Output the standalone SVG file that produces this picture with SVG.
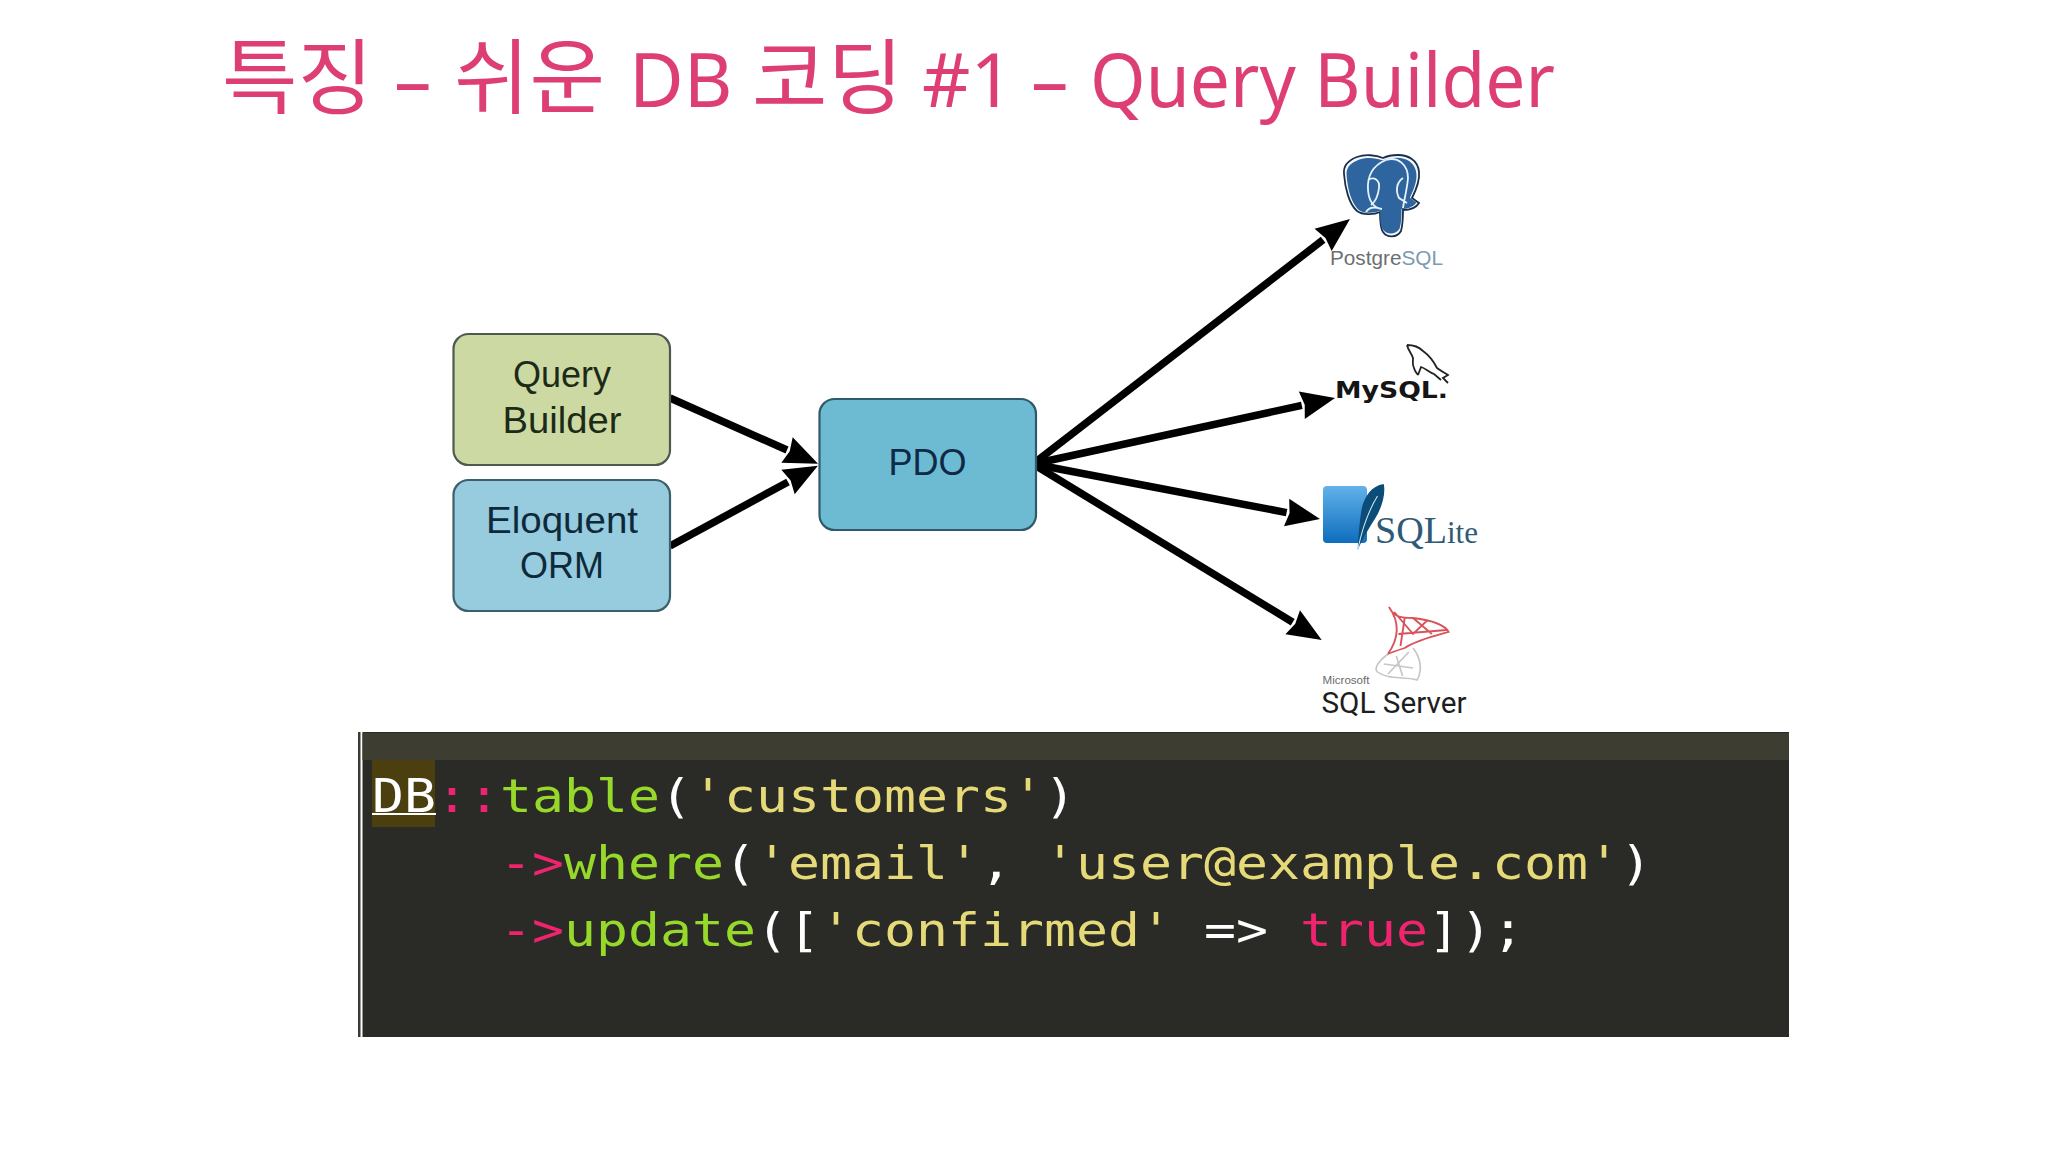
<svg xmlns="http://www.w3.org/2000/svg" width="2048" height="1152" viewBox="0 0 2048 1152">
<style>
.box{stroke-width:2.2}
.lbl{font-family:"Liberation Sans",Arial,sans-serif;font-size:36px;text-anchor:middle}
.conn{fill:none;stroke:#000;stroke-width:7.5;marker-end:url(#head)}
.c{font-family:"DejaVu Sans Mono","Liberation Mono",monospace;font-size:47px}
.w{fill:#fff}.p{fill:#f0246e}.g{fill:#96d92a}.y{fill:#e6da78}
.ko{font-family:"Noto Sans CJK KR",sans-serif;font-size:82px}
.la{font-family:"Noto Sans","Noto Sans CJK KR",sans-serif;font-size:75px}
</style>
<defs>
<marker id="head" markerUnits="userSpaceOnUse" markerWidth="38" markerHeight="32" viewBox="-2 -16 38 32" refX="0" refY="0" orient="auto"><path d="M0,-14 L34,0 L0,14 L3,0 z" fill="#000"/></marker>
<linearGradient id="sq" x1="0" y1="0" x2="0" y2="1"><stop offset="0" stop-color="#62b2ea"/><stop offset="1" stop-color="#0e6dbd"/></linearGradient>
</defs>
<rect width="2048" height="1152" fill="#fff"/>
<text id="title" y="107" fill="#dd3f74"><tspan class="ko" x="222">특징 </tspan><tspan class="la" x="394">– </tspan><tspan class="ko" x="454">쉬운 </tspan><tspan class="la" x="629">DB </tspan><tspan class="ko" x="752">코딩 </tspan><tspan class="la" x="922">#1 </tspan><tspan class="la" x="1031">– </tspan><tspan class="la" x="1090" textLength="465" lengthAdjust="spacingAndGlyphs">Query Builder</tspan></text>

<g id="connectors">
<path class="conn" d="M670,398 L787,450"/>
<path class="conn" d="M670,546 L788,482"/>
<path class="conn" d="M1033,464 L1323.1,239.8"/>
<path class="conn" d="M1033,464 L1301.8,405.3"/>
<path class="conn" d="M1033,464 L1286.6,512.6"/>
<path class="conn" d="M1033,464 L1292.7,622.3"/>
</g>

<g id="query-builder">
<rect class="box" x="453.5" y="334" width="216.5" height="131" rx="15" fill="#cdd9a2" stroke="#4c5a50"/>
<text class="lbl" x="562" y="387" fill="#1c2a18">Query</text>
<text class="lbl" x="562" y="433" fill="#1c2a18" textLength="119" lengthAdjust="spacingAndGlyphs">Builder</text>
</g>
<g id="eloquent-orm">
<rect class="box" x="453.5" y="480" width="216.5" height="131" rx="15" fill="#97cbde" stroke="#3c5f6c"/>
<text class="lbl" x="562" y="533" fill="#0e2a3a" textLength="152" lengthAdjust="spacingAndGlyphs">Eloquent</text>
<text class="lbl" x="562" y="578" fill="#0e2a3a">ORM</text>
</g>
<g id="pdo">
<rect class="box" x="819.5" y="399" width="216.5" height="131" rx="15" fill="#6dbbd3" stroke="#2f5a6c"/>
<text class="lbl" x="927.5" y="475" fill="#0e2a45">PDO</text>
</g>

<g id="postgresql">
<path d="M1357,157 C1349,160 1343,165 1344,174 C1345,188 1349,204 1357,211 C1362,215 1374,215 1380,212 C1380,220 1380,228 1383,232 C1387,238 1397,238 1401,231 C1403,224 1403,216 1403,210 C1409,210 1416,208 1419,203 L1412,198 C1416,190 1420,180 1419,172 C1418,160 1408,155 1398,155 C1392,155 1387,156 1383,158 C1376,155 1365,154 1357,157 Z" fill="#f4f8fc" stroke="#1c2f48" stroke-width="1.8"/>
<path transform="translate(1381.5 195) scale(.93) translate(-1381.5 -195)" d="M1357,157 C1349,160 1343,165 1344,174 C1345,188 1349,204 1357,211 C1362,215 1374,215 1380,212 C1380,220 1380,228 1383,232 C1387,238 1397,238 1401,231 C1403,224 1403,216 1403,210 C1409,210 1416,208 1419,203 L1412,198 C1416,190 1420,180 1419,172 C1418,160 1408,155 1398,155 C1392,155 1387,156 1383,158 C1376,155 1365,154 1357,157 Z" fill="#2f659f"/>
<path d="M1386,160 C1374,165 1367,175 1368,190 C1369,203 1375,208 1382,209 M1386,160 C1398,156 1408,165 1408,178 C1407,190 1404,200 1403,208 M1368,180 C1374,176 1380,180 1379,188 C1378,196 1375,202 1371,205 M1403,178 C1397,182 1395,190 1399,198 L1407,203 M1366,212 C1370,206 1376,207 1381,209" fill="none" stroke="#e8f2fb" stroke-width="1.8"/>
<text x="1330" y="265" font-family="'Liberation Sans',Arial,sans-serif" font-size="20" textLength="113" lengthAdjust="spacingAndGlyphs" fill="#6b6f72">Postgre<tspan fill="#7c9ab0">SQL</tspan></text>
</g>
<g id="mysql">
<path d="M1407,345 C1412,345 1418,346 1423,351 C1430,356 1434,362 1437,368 C1441,371 1445,373 1448,375 L1443,378 L1448,383 M1407,345 C1408,350 1412,354 1413,358 C1413,362 1412,365 1414,368 C1415,372 1416,372 1418,375 M1418,375 L1421,367 C1425,368 1429,372 1434,374 L1441,380" fill="none" stroke="#222" stroke-width="1.8"/>
<text x="1335" y="398" font-family="'DejaVu Sans',sans-serif" font-weight="bold" font-size="23" textLength="113" lengthAdjust="spacingAndGlyphs" fill="#151515">MySQL.</text>
</g>
<g id="sqlite">
<rect x="1323" y="486" width="44" height="57" rx="4" fill="url(#sq)"/>
<g transform="matrix(1.0453 0 0 1 -46.2 0)">
<path d="M1368,484 C1356,486 1350,496 1347,508 C1345,520 1344,532 1343,550 C1348,538 1354,528 1360,518 C1366,508 1370,494 1368,484 Z" fill="#0c4c78"/>
<path d="M1362,496 C1355,508 1348,525 1343,550" fill="none" stroke="#cfe6f4" stroke-width="1"/>
</g>
<text x="1375" y="543" font-family="'Liberation Serif','Times New Roman',serif" font-size="38" textLength="103" lengthAdjust="spacingAndGlyphs" fill="#2f5a75">SQL<tspan font-size="31">ite</tspan></text>
</g>
<g id="sql-server">
<g transform="matrix(1.0453 0 0 1 -46.2 0)">
<path d="M1373,607 C1378,618 1386,618 1396,618 C1412,620 1426,624 1430,632 C1416,636 1400,640 1388,648 C1382,650 1376,652 1372,654 C1380,642 1386,626 1373,607 Z M1378,612 L1396,634 L1410,620 M1388,618 L1384,646 M1396,618 L1414,634 M1382,634 L1428,630" fill="none" stroke="#d9535a" stroke-width="1.8"/>
<path d="M1372,654 C1364,660 1358,668 1362,672 C1372,680 1386,676 1400,680 C1406,668 1402,656 1396,648 M1368,664 L1396,668 M1380,656 L1386,676 M1392,652 L1372,674" fill="none" stroke="#c6c6c6" stroke-width="1.6"/>
</g>
<text x="1322.5" y="684" font-family="'Liberation Sans',Arial,sans-serif" font-size="10.5" textLength="47" lengthAdjust="spacingAndGlyphs" fill="#6a6a6a">Microsoft</text>
<text x="1321.5" y="713" font-family="Roboto,'Liberation Sans',sans-serif" font-size="29" textLength="145" lengthAdjust="spacingAndGlyphs" fill="#1e1e1e">SQL Server</text>
</g>

<g id="code">
<rect x="358" y="732" width="2.5" height="305" fill="#3a3a36"/>
<rect x="362.5" y="732" width="1426.5" height="305" fill="#2a2a26"/>
<rect x="362.5" y="733" width="1426.5" height="27" fill="#3d3d32"/>
<rect x="372" y="760" width="63" height="67" fill="#4b3f10"/>
<rect x="372" y="813" width="64" height="2" fill="#fff"/>
<text class="c w" x="372" y="812" textLength="64" lengthAdjust="spacingAndGlyphs">DB</text>
<text class="c p" x="436" y="812" textLength="64" lengthAdjust="spacingAndGlyphs">::</text>
<text class="c g" x="500" y="812" textLength="160" lengthAdjust="spacingAndGlyphs">table</text>
<text class="c w" x="660" y="812" textLength="32" lengthAdjust="spacingAndGlyphs">(</text>
<text class="c y" x="692" y="812" textLength="352" lengthAdjust="spacingAndGlyphs">'customers'</text>
<text class="c w" x="1044" y="812" textLength="32" lengthAdjust="spacingAndGlyphs">)</text>

<text class="c p" x="500" y="879" textLength="64" lengthAdjust="spacingAndGlyphs">-&gt;</text>
<text class="c g" x="564" y="879" textLength="160" lengthAdjust="spacingAndGlyphs">where</text>
<text class="c w" x="724" y="879" textLength="32" lengthAdjust="spacingAndGlyphs">(</text>
<text class="c y" x="756" y="879" textLength="224" lengthAdjust="spacingAndGlyphs">'email'</text>
<text class="c w" x="980" y="879" textLength="32" lengthAdjust="spacingAndGlyphs">,</text>
<text class="c y" x="1044" y="879" textLength="576" lengthAdjust="spacingAndGlyphs">'user@example.com'</text>
<text class="c w" x="1620" y="879" textLength="32" lengthAdjust="spacingAndGlyphs">)</text>

<text class="c p" x="500" y="946" textLength="64" lengthAdjust="spacingAndGlyphs">-&gt;</text>
<text class="c g" x="564" y="946" textLength="192" lengthAdjust="spacingAndGlyphs">update</text>
<text class="c w" x="756" y="946" textLength="64" lengthAdjust="spacingAndGlyphs">([</text>
<text class="c y" x="820" y="946" textLength="352" lengthAdjust="spacingAndGlyphs">'confirmed'</text>
<text class="c w" x="1204" y="946" textLength="64" lengthAdjust="spacingAndGlyphs">=&gt;</text>
<text class="c p" x="1300" y="946" textLength="128" lengthAdjust="spacingAndGlyphs">true</text>
<text class="c w" x="1428" y="946" textLength="96" lengthAdjust="spacingAndGlyphs">]);</text>
</g>
</svg>
